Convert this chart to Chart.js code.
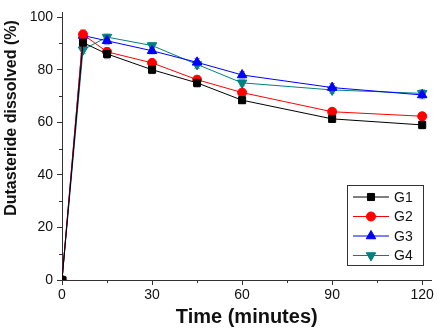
<!DOCTYPE html>
<html>
<head>
<meta charset="utf-8">
<script src="https://cdn.jsdelivr.net/npm/chart.js@4.4.1/dist/chart.umd.min.js"></script>
<style>
  html, body { margin: 0; padding: 0; background: #fff; }
  #wrap { width: 438px; height: 330px; }
</style>
</head>
<body>
<div id="wrap"><canvas id="c" width="438" height="330"></canvas></div>
<script>
// datos
const times = [0, 7, 15, 30, 45, 60, 90, 120];
const g1 = [0, 90.3, 86.0, 80.0, 75.0, 68.4, 61.3, 59.0];
const g2 = [0, 93.4, 86.8, 82.6, 76.2, 71.3, 64.0, 62.3];
const g3 = [0, 93.0, 91.0, 87.2, 82.8, 78.0, 73.2, 70.4];
const g4 = [0, 87.6, 92.4, 89.2, 82.0, 75.0, 72.3, 71.0];
const g1Err = [0, 2.0, 1.8, 1.5, 1.6, 1.2, 1.2, 1.5];
const g2Err = [0, 1.8, 1.5, 1.3, 1.5, 1.2, 1.2, 1.2];
const g3Err = [0, 1.5, 1.5, 1.2, 1.5, 1.2, 1.5, 1.5];
const g4Err = [0, 1.5, 1.2, 1.2, 1.5, 1.2, 1.2, 1.5];
const xTicks = [0, 30, 60, 90, 120];
const xMinor = [15, 45, 75, 105];
const yTicks = [0, 20, 40, 60, 80, 100];
const yMinor = [10, 30, 50, 70, 90];

const toPts = (arr) => arr.map((v, i) => ({ x: times[i], y: v }));

function serie(label, data, err, color, errColor, style, radius, rot) {
    return {
        label: label,
        data: toPts(data),
        err: err,
        errColor: errColor,
        borderColor: color,
        backgroundColor: color,
        borderWidth: 1,
        pointStyle: style,
        pointRadius: radius,
        pointRotation: rot || 0,
        pointBorderWidth: 1,
        tension: 0
    };
}

// barras de error
const errorBars = {
    id: 'errorBars',
    beforeDatasetsDraw(chart) {
        const ctx = chart.ctx;
        const xs = chart.scales.x, ys = chart.scales.y;
        ctx.save();
        chart.data.datasets.forEach((ds) => {
            ctx.strokeStyle = ds.errColor;
            ctx.lineWidth = 1;
            ds.data.forEach((p, i) => {
                const e = ds.err[i];
                if (!e) return;
                const px = xs.getPixelForValue(p.x);
                const top = ys.getPixelForValue(p.y + e);
                const bot = ys.getPixelForValue(p.y - e);
                ctx.beginPath();
                ctx.moveTo(px, top); ctx.lineTo(px, bot);
                ctx.moveTo(px - 3, top); ctx.lineTo(px + 3, top);
                ctx.moveTo(px - 3, bot); ctx.lineTo(px + 3, bot);
                ctx.stroke();
            });
        });
        ctx.restore();
    }
};

// marcas menores y título del eje y
const extras = {
    id: 'extras',
    afterDraw(chart) {
        const ctx = chart.ctx;
        const xs = chart.scales.x, ys = chart.scales.y;
        const a = chart.chartArea;
        ctx.save();
        ctx.strokeStyle = '#333';
        ctx.lineWidth = 1;
        ctx.beginPath();
        xMinor.forEach((v) => {
            const px = Math.round(xs.getPixelForValue(v)) + 0.5;
            ctx.moveTo(px, a.bottom); ctx.lineTo(px, a.bottom + 3);
        });
        yMinor.forEach((v) => {
            const py = Math.round(ys.getPixelForValue(v)) + 0.5;
            ctx.moveTo(a.left, py); ctx.lineTo(a.left - 3, py);
        });
        ctx.stroke();

        ctx.fillStyle = '#111';
        ctx.font = 'bold 16px "Liberation Sans", Arial, sans-serif';
        ctx.textAlign = 'center';
        ctx.textBaseline = 'middle';
        ctx.translate(12, 118);
        ctx.rotate(-Math.PI / 2);
        ctx.fillText('Dutasteride dissolved (%)', 0, 0);
        ctx.restore();
    }
};

// leyenda dentro del área
const legendBox = {
    id: 'legendBox',
    afterDraw(chart) {
        const ctx = chart.ctx;
        const x0 = 347, y0 = 185, w = 76, h = 80;
        ctx.save();
        ctx.strokeStyle = '#333';
        ctx.lineWidth = 1;
        ctx.fillStyle = '#fff';
        ctx.fillRect(x0, y0, w, h);
        ctx.strokeRect(x0 + 0.5, y0 + 0.5, w, h);
        ctx.font = '14px "Liberation Sans", Arial, sans-serif';
        ctx.textBaseline = 'middle';
        ctx.textAlign = 'left';
        chart.data.datasets.forEach((ds, i) => {
            const y = y0 + 12 + i * 19.5;
            ctx.strokeStyle = ds.borderColor;
            ctx.beginPath();
            ctx.moveTo(x0 + 6, y); ctx.lineTo(x0 + 42, y);
            ctx.stroke();
            ctx.fillStyle = ds.backgroundColor;
            Chart.helpers.drawPoint(ctx, {
                pointStyle: ds.pointStyle, radius: ds.pointRadius,
                rotation: ds.pointRotation, borderWidth: 1
            }, x0 + 24, y);
            ctx.fillStyle = '#111';
            ctx.fillText(ds.label, x0 + 47, y + 1);
        });
        ctx.restore();
    }
};

const ctx = document.getElementById('c').getContext('2d');
new Chart(ctx, {
    type: 'line',
    data: {
        datasets: [
            serie('G1', g1, g1Err, '#000000', '#888888', 'rect', 5),
            serie('G2', g2, g2Err, '#ff0000', '#ff9999', 'circle', 4.5),
            serie('G3', g3, g3Err, '#0000ff', '#9999ff', 'triangle', 5.5),
            serie('G4', g4, g4Err, '#008080', '#80c0c0', 'triangle', 5.5, 180)
        ]
    },
    options: {
        responsive: false,
        animation: false,
        layout: { padding: { top: 0, right: 1, left: 0, bottom: 0 } },
        plugins: {
            legend: { display: false },
            tooltip: { enabled: false }
        },
        scales: {
            x: {
                type: 'linear',
                min: 0,
                max: 123.1,
                afterBuildTicks: (s) => { s.ticks = xTicks.map((v) => ({ value: v })); },
                afterFit: (s) => { s.height = 50; },
                grid: { drawOnChartArea: false, tickLength: 5, color: '#333' },
                border: { color: '#333', width: 1 },
                ticks: {
                    color: '#111',
                    padding: 2,
                    maxRotation: 0,
                    font: { family: '"Liberation Sans", Arial, sans-serif', size: 14 }
                },
                title: {
                    display: true,
                    text: 'Time (minutes)',
                    color: '#111',
                    padding: { top: 0, bottom: 1 },
                    font: { family: '"Liberation Sans", Arial, sans-serif', size: 20, weight: 'bold' }
                }
            },
            y: {
                min: 0,
                max: 101.8,
                afterBuildTicks: (s) => { s.ticks = yTicks.map((v) => ({ value: v })); },
                afterFit: (s) => { s.width = 62; },
                grid: { drawOnChartArea: false, tickLength: 5, color: '#333' },
                border: { color: '#333', width: 1 },
                ticks: {
                    color: '#111',
                    padding: 4,
                    font: { family: '"Liberation Sans", Arial, sans-serif', size: 14 }
                }
            }
        }
    },
    plugins: [errorBars, extras, legendBox]
});
</script>
</body>
</html>
